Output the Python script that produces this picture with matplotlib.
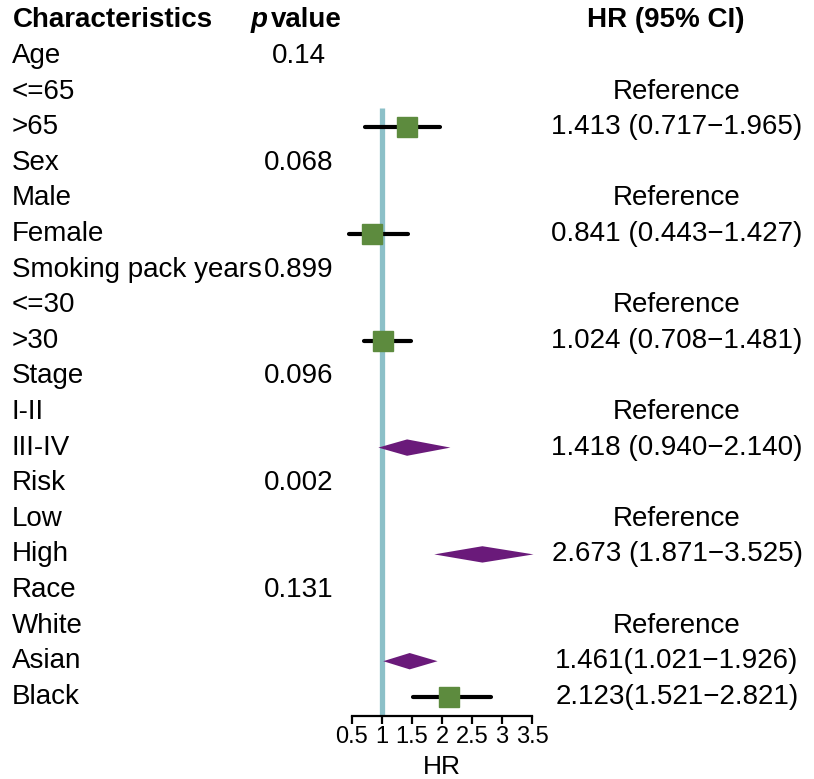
import numpy as np
import matplotlib
matplotlib.use("Agg")
import matplotlib.pyplot as plt
from matplotlib import transforms

plt.rcParams['font.family'] = ['Liberation Sans', 'DejaVu Sans']

# rows of the table, top to bottom
labels = ["Age", "<=65", ">65", "Sex", "Male", "Female", "Smoking pack years",
          "<=30", ">30", "Stage", "I-II", "III-IV", "Risk", "Low", "High",
          "Race", "White", "Asian", "Black"]
pvals = ["0.14", "", "", "0.068", "", "", "0.899", "", "", "0.096", "", "",
         "0.002", "", "", "0.131", "", "", ""]
hr_text = ["", "Reference", "1.413 (0.717\u22121.965)",
           "", "Reference", "0.841 (0.443\u22121.427)",
           "", "Reference", "1.024 (0.708\u22121.481)",
           "", "Reference", "1.418 (0.940\u22122.140)",
           "", "Reference", "2.673 (1.871\u22123.525)",
           "", "Reference", "1.461(1.021\u22121.926)", "2.123(1.521\u22122.821)"]

# estimates: row index, HR, lower, upper, marker shape
est_rows = [2, 5, 8, 11, 14, 17, 18]
hr = [1.413, 0.841, 1.024, 1.418, 2.673, 1.461, 2.123]
lower = [0.717, 0.443, 0.708, 0.940, 1.871, 1.021, 1.521]
upper = [1.965, 1.427, 1.481, 2.140, 3.525, 1.926, 2.821]
shape = ["box", "box", "box", "diamond", "diamond", "diamond", "box"]

xticks = [0.5, 1, 1.5, 2, 2.5, 3, 3.5]

W, H = 814, 779
fig = plt.figure(figsize=(W / 100, H / 100), dpi=100)

# forest panel: 60 px per HR unit, 0.5 at x=352
x0, x1 = 0.3, 3.7
left_px = 352 - (0.5 - x0) * 60
width_px = (x1 - x0) * 60
bottom_px = 716
row0_px, row_step = 56, 35.6
y_top = (0 - row0_px) / row_step
y_bot = (bottom_px - row0_px) / row_step
ax = fig.add_axes([left_px / W, (H - bottom_px) / H, width_px / W, bottom_px / H])
ax.set_xlim(x0, x1)
ax.set_ylim(y_bot, y_top)
ax.patch.set_alpha(0)

for s in ["top", "right", "left"]:
    ax.spines[s].set_visible(False)
ax.spines["bottom"].set_bounds(0.5, 3.5)
ax.spines["bottom"].set_linewidth(1.6)
ax.set_yticks([])
ax.set_xticks(xticks)
ax.set_xticklabels([f"{t:g}" for t in xticks], fontsize=17)
ax.tick_params(axis="x", length=6, width=1.6, pad=1)
ax.set_xlabel("HR", fontsize=19, labelpad=5)

# reference line at HR = 1
ax.plot([1, 1], [1.45, y_bot], color="#8CC0C8", lw=3.8, solid_capstyle="butt", zorder=1)

green = "#5D8B3E"
purple = "#6A1A7A"
for r, e, lo, hi, sh in zip(est_rows, hr, lower, upper, shape):
    if sh == "box":
        ax.plot([lo, hi], [r, r], color="black", lw=3, zorder=2, solid_capstyle="round")
        ax.plot(e, r, marker="s", ms=14.5, color=green, mec=green, zorder=3)
    else:
        h = 0.23
        ax.fill([lo, e, hi, e], [r, r - h, r, r + h], color=purple, lw=0, zorder=3)

# text columns
tr = transforms.blended_transform_factory(fig.transFigure, ax.transData)
fs = 20
for i, (lab, p, t) in enumerate(zip(labels, pvals, hr_text)):
    ax.text(12 / W, i, lab, transform=tr, fontsize=fs, va="center", ha="left")
    if p:
        ax.text(299 / W, i, p, transform=tr, fontsize=fs, va="center", ha="center")
    if t:
        ax.text(677 / W, i, t, transform=tr, fontsize=fs, va="center", ha="center")

hy = (20 - row0_px) / row_step
ax.text(13 / W, hy, "Characteristics", transform=tr, fontsize=fs, fontweight="bold", va="center", ha="left")
ax.text(251 / W, hy, "p", transform=tr, fontsize=fs, fontweight="bold", fontstyle="italic", va="center", ha="left")
ax.text(271 / W, hy, "value", transform=tr, fontsize=fs, fontweight="bold", va="center", ha="left")
ax.text(666 / W, hy, "HR (95% CI)", transform=tr, fontsize=fs, fontweight="bold", va="center", ha="center")

fig.savefig("out.png", dpi=100)
